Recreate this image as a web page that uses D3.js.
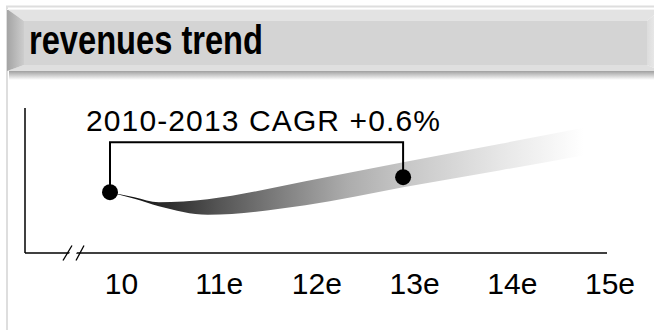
<!DOCTYPE html>
<html>
<head>
<meta charset="utf-8">
<script src="https://cdn.jsdelivr.net/npm/d3@7"></script>
<style>
  html, body { margin: 0; padding: 0; background: #fff; }
  svg { display: block; font-family: "Liberation Sans", Arial, Helvetica, sans-serif; }
</style>
</head>
<body>
<svg id="chart" width="654" height="330"></svg>
<script>
// Year labels along the x axis (index 0 = 2010)
const yearLabels = ["10", "11e", "12e", "13e", "14e", "15e"];
const yearIndex = [0, 1, 2, 3, 4, 5];

// Revenue index (2010 = 100); 2013 follows from a 0.6% CAGR
const pointYears = [0, 3];
const pointValues = [100, 101.8];

// Forecast ribbon: upper and lower bounds sampled along the year index
const ribbonYears = [0, 0.25, 0.5, 1, 2, 3, 4, 4.85];
const ribbonHigh  = [100, 99.4, 98.8, 99.16, 101.32, 103.6, 105.82, 107.74];
const ribbonLow   = [100, 99.2, 98.32, 97.3, 98.44, 100.6, 102.64, 104.44];

const title = "revenues trend";
const cagrLabel = "2010-2013 CAGR +0.6%";

const svg = d3.select("#chart");
const defs = svg.append("defs");

// ---------- outer frame ----------
svg.append("rect")
  .attr("x", 7).attr("y", 6.5).attr("width", 700).attr("height", 400)
  .attr("fill", "none").attr("stroke", "#dedede").attr("stroke-width", 2);

// ---------- bevelled header ----------
const hx0 = 7, hx1 = 661, hy0 = 9, hy1 = 71;
const fx0 = 24, fx1 = 647, fy0 = 21, fy1 = 65;

const shadow = defs.append("linearGradient").attr("id", "hdrShadow")
  .attr("x1", 0).attr("y1", 0).attr("x2", 0).attr("y2", 1);
shadow.append("stop").attr("offset", 0).attr("stop-color", "#a0a0a0");
shadow.append("stop").attr("offset", 1).attr("stop-color", "#ffffff");
svg.append("rect").attr("x", hx0 + 2).attr("y", hy1).attr("width", hx1 - hx0)
  .attr("height", 9).attr("fill", "url(#hdrShadow)");

const leftBevel = defs.append("linearGradient").attr("id", "leftBevel")
  .attr("x1", 0).attr("y1", 0).attr("x2", 1).attr("y2", 0);
leftBevel.append("stop").attr("offset", 0).attr("stop-color", "#a4a4a4");
leftBevel.append("stop").attr("offset", 1).attr("stop-color", "#cdcdcd");

const rightBevel = defs.append("linearGradient").attr("id", "rightBevel")
  .attr("x1", 0).attr("y1", 0).attr("x2", 1).attr("y2", 0);
rightBevel.append("stop").attr("offset", 0).attr("stop-color", "#dcdcdc");
rightBevel.append("stop").attr("offset", 1).attr("stop-color", "#f2f2f2");

const poly = pts => pts.map(p => p.join(",")).join(" ");
svg.append("polygon").attr("points", poly([[hx0, hy0], [hx1, hy0], [fx1, fy0], [fx0, fy0]]))
  .attr("fill", "#e3e3e3");
svg.append("polygon").attr("points", poly([[hx0, hy1], [fx0, fy1], [fx1, fy1], [hx1, hy1]]))
  .attr("fill", "#dfdfdf");
svg.append("polygon").attr("points", poly([[hx0, hy0], [fx0, fy0], [fx0, fy1], [hx0, hy1]]))
  .attr("fill", "url(#leftBevel)");
svg.append("polygon").attr("points", poly([[fx1, fy0], [hx1, hy0], [hx1, hy1], [fx1, fy1]]))
  .attr("fill", "url(#rightBevel)");
svg.append("rect").attr("x", fx0).attr("y", fy0).attr("width", fx1 - fx0).attr("height", fy1 - fy0)
  .attr("fill", "#d4d4d4");
svg.append("line").attr("x1", hx0).attr("x2", hx1).attr("y1", hy0 + 0.5).attr("y2", hy0 + 0.5)
  .attr("stroke", "#f4f4f4").attr("stroke-width", 1);

svg.append("text")
  .attr("x", 29).attr("y", 54)
  .attr("font-size", 41).attr("font-weight", "bold").attr("fill", "#000")
  .attr("textLength", 234).attr("lengthAdjust", "spacingAndGlyphs")
  .text(title);

// ---------- scales ----------
const x = d3.scaleLinear().domain([0, 5]).range([110, 598.5]);
const y = d3.scaleLinear().domain([92.7, 110.1]).range([253, 108]);

// ---------- axes ----------
const axisLeftX = 25, axisRightX = 607;
svg.append("line")
  .attr("x1", axisLeftX).attr("x2", axisLeftX)
  .attr("y1", y.range()[1]).attr("y2", y.range()[0])
  .attr("stroke", "#000").attr("stroke-width", 1.5);
svg.append("line")
  .attr("x1", axisLeftX).attr("x2", axisRightX)
  .attr("y1", y.range()[0]).attr("y2", y.range()[0])
  .attr("stroke", "#000").attr("stroke-width", 1.3);

// axis break marks
const by = y.range()[0];
svg.append("polygon")
  .attr("points", poly([[66, by + 7], [73, by - 7], [80, by - 7], [73, by + 7]]))
  .attr("fill", "#fff");
[[63, 72], [76, 84]].forEach(([a, b]) => {
  svg.append("line")
    .attr("x1", a).attr("y1", by + 7.5).attr("x2", b).attr("y2", by - 7.5)
    .attr("stroke", "#000").attr("stroke-width", 1.3);
});

const xAxis = d3.axisBottom(x)
  .tickValues(yearIndex)
  .tickFormat(i => yearLabels[i])
  .tickSize(0)
  .tickPadding(20);
const gx = svg.append("g").attr("transform", `translate(0,${y.range()[0]})`).call(xAxis);
gx.select(".domain").remove();
gx.selectAll("text")
  .attr("dx", 11)
  .attr("font-size", 30)
  .attr("font-family", "\"Liberation Sans\", Arial, Helvetica, sans-serif")
  .attr("fill", "#000");

// ---------- forecast ribbon ----------
const ribbonGrad = defs.append("linearGradient").attr("id", "ribbonGrad")
  .attr("gradientUnits", "userSpaceOnUse")
  .attr("x1", x(ribbonYears[0])).attr("y1", 0)
  .attr("x2", x(ribbonYears[ribbonYears.length - 1])).attr("y2", 0);
[[0, "#000000"], [0.23, "#555555"], [0.5, "#acacac"], [0.62, "#c6c6c6"],
 [0.82, "#e6e6e6"], [1, "#ffffff"]].forEach(([o, c]) =>
  ribbonGrad.append("stop").attr("offset", o).attr("stop-color", c));

const ribbon = ribbonYears.map((t, i) => ({ t, hi: ribbonHigh[i], lo: ribbonLow[i] }));
const area = d3.area()
  .x(d => x(d.t))
  .y0(d => y(d.lo))
  .y1(d => y(d.hi))
  .curve(d3.curveMonotoneX);
svg.append("path").datum(ribbon)
  .attr("d", area)
  .attr("fill", "url(#ribbonGrad)");

// ---------- CAGR bracket ----------
const pts = pointYears.map((t, i) => ({ t, v: pointValues[i] }));
const bracketY = d3.min(pts, d => y(d.v)) - 35;
svg.append("path")
  .attr("d", `M${x(pts[0].t)},${y(pts[0].v)} V${bracketY} H${x(pts[1].t)} V${y(pts[1].v)}`)
  .attr("fill", "none").attr("stroke", "#000").attr("stroke-width", 2);

svg.selectAll("circle.pt").data(pts).enter().append("circle")
  .attr("class", "pt")
  .attr("cx", d => x(d.t)).attr("cy", d => y(d.v)).attr("r", 8)
  .attr("fill", "#000");

svg.append("text")
  .attr("x", x(pts[0].t) - 24).attr("y", 131)
  .attr("font-size", 30).attr("fill", "#000")
  .attr("textLength", 354).attr("lengthAdjust", "spacing")
  .text(cagrLabel);
</script>
</body>
</html>
